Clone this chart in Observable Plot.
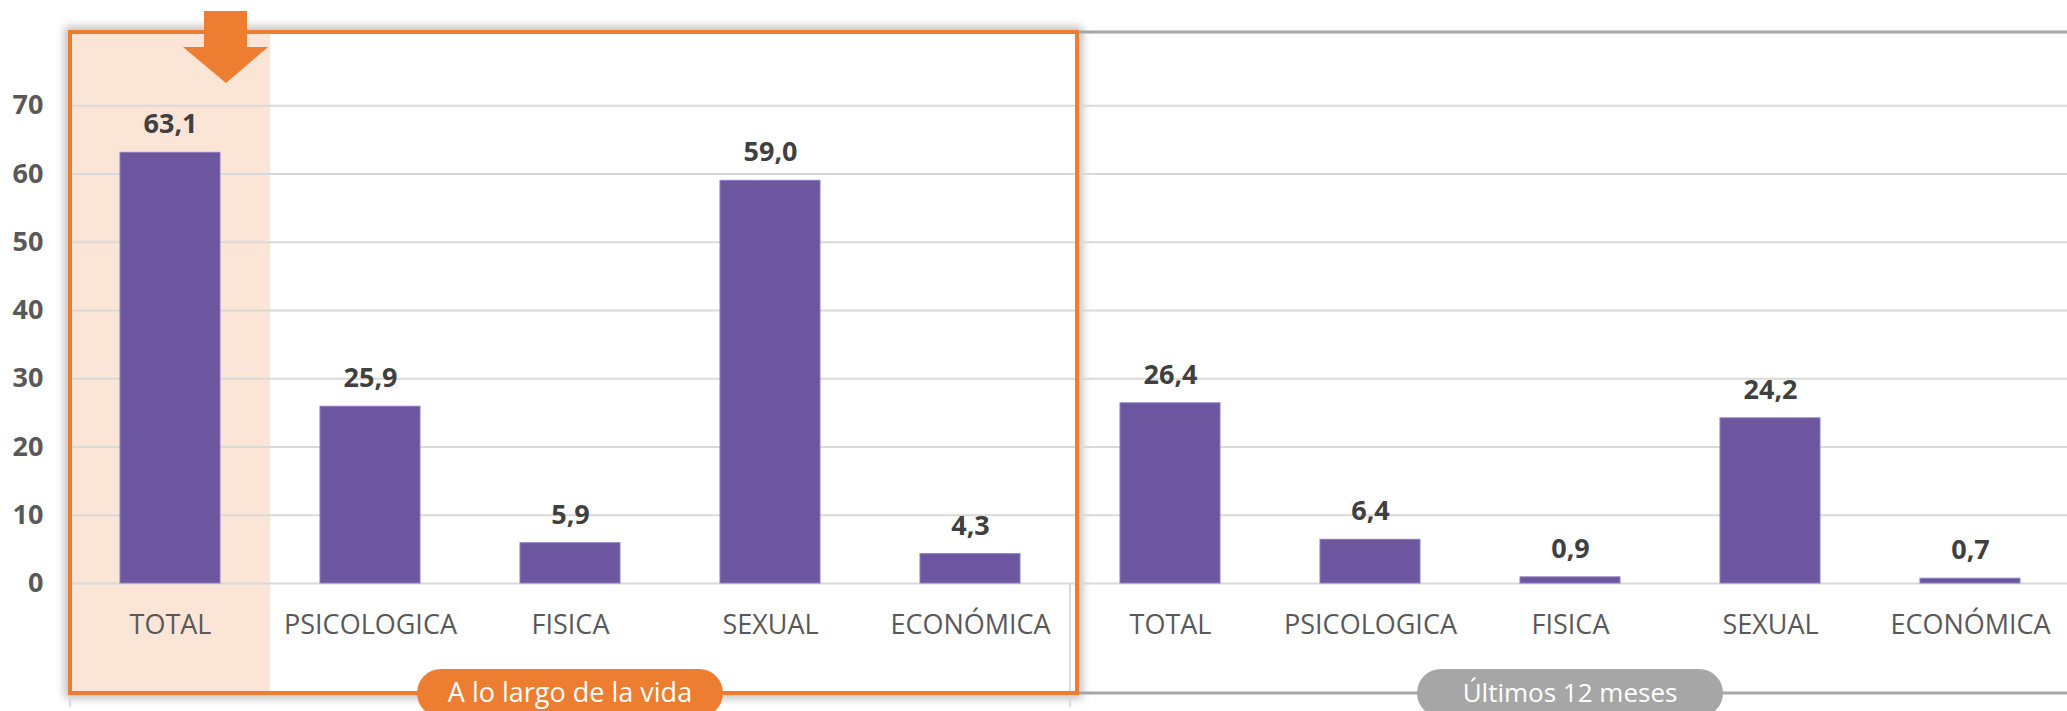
<!DOCTYPE html>
<html>
<head>
<meta charset="utf-8">
<script src="https://cdn.jsdelivr.net/npm/d3@7"></script>
<script src="https://cdn.jsdelivr.net/npm/@observablehq/plot@0.6"></script>
<style>
  html, body { margin: 0; padding: 0; background: #fff; }
  #chart { width: 2067px; height: 711px; overflow: hidden; }
</style>
</head>
<body>
<div id="chart"></div>
<script>
// ---- data ----
const categories = ["TOTAL", "PSICOLOGICA", "FISICA", "SEXUAL", "ECONÓMICA"];
const periods = ["A lo largo de la vida", "Últimos 12 meses"];
const valuesVida = [63.1, 25.9, 5.9, 59.0, 4.3];
const values12 = [26.4, 6.4, 0.9, 24.2, 0.7];
const yTicks = [0, 10, 20, 30, 40, 50, 60, 70];

const data = [];
periods.forEach((p, pi) => {
  const vals = pi === 0 ? valuesVida : values12;
  categories.forEach((c, ci) => data.push({key: pi * categories.length + ci, period: p, pi, category: c, value: vals[ci]}));
});
const keys = data.map(d => d.key);

const fmt = v => d3.format(".1f")(v).replace(".", ",");
const ORANGE = "#ED7D31", GRAY = "#A6A6A6", PURPLE = "#6C56A0", PEACH = "#FBE5D6", GRID = "#D9D9D9";
const FONT = "'Open Sans', 'Noto Sans', sans-serif";

function edges(x) {
  const step = x(keys[1]) - x(keys[0]);
  const bw = typeof x.bandwidth === "function" ? x.bandwidth() : step / 2;
  const pad = (step - bw) / 2;
  return {left: k => x(k) - pad, right: k => x(k) + bw + pad, center: k => x(k) + bw / 2};
}
const n = categories.length;

// background: shadow, white interior of highlighted group, peach highlight of TOTAL
function background(index, {x, y}) {
  const e = edges(x);
  const g = d3.create("svg:g");
  const top = y(80) - 5, bottom = y(0) + 110;
  const l = e.left(keys[0]), r = e.right(keys[n - 1]) + 7;
  const f = g.append("defs").append("filter").attr("id", "glow")
    .attr("x", "-5%").attr("y", "-10%").attr("width", "110%").attr("height", "120%");
  f.append("feGaussianBlur").attr("stdDeviation", 5);
  g.append("rect").attr("x", l).attr("y", top).attr("width", r - l).attr("height", bottom - top)
    .attr("fill", "none").attr("stroke", "#000").attr("stroke-opacity", 0.28).attr("stroke-width", 10)
    .attr("filter", "url(#glow)");
  g.append("rect").attr("x", l).attr("y", top).attr("width", r - l).attr("height", bottom - top).attr("fill", "#fff");
  g.append("rect").attr("x", l).attr("y", top).attr("width", e.right(keys[0]) - l).attr("height", bottom - top).attr("fill", PEACH);
  return g.node();
}

// frames, separators, arrow and group pills
function frames(index, {x, y}, values, dims) {
  const e = edges(x);
  const g = d3.create("svg:g");
  const top = y(80) - 5, bottom = y(0) + 110;
  const l = e.left(keys[0]), r = e.right(keys[n - 1]) + 7;
  // category group separators
  [e.left(keys[0]), e.right(keys[n - 1]), e.right(keys[2 * n - 1])].forEach(sx => {
    g.append("line").attr("x1", sx).attr("x2", sx).attr("y1", y(0)).attr("y2", y(0) + 124)
      .attr("stroke", GRID).attr("stroke-width", 2);
  });
  // gray frame (second group)
  g.append("rect").attr("x", r).attr("y", top).attr("width", dims.width - r + 20).attr("height", bottom - top)
    .attr("fill", "none").attr("stroke", GRAY).attr("stroke-width", 3);
  // orange frame (first group)
  g.append("rect").attr("x", l).attr("y", top).attr("width", r - l).attr("height", bottom - top)
    .attr("fill", "none").attr("stroke", ORANGE).attr("stroke-width", 4);
  // arrow
  const ax = l + 156;
  const arrow = [[ax - 22, top - 21], [ax + 21, top - 21], [ax + 21, top + 15], [ax + 42, top + 15],
                 [ax, top + 51], [ax - 43, top + 15], [ax - 22, top + 15]];
  g.append("polygon").attr("points", arrow.map(p => p.join(",")).join(" ")).attr("fill", ORANGE);
  // pills
  periods.forEach((p, pi) => {
    const cx = (e.left(keys[pi * n]) + e.right(keys[pi * n + n - 1])) / 2;
    const w = 306, h = 48;
    g.append("rect").attr("x", cx - w / 2).attr("y", bottom - h / 2).attr("width", w).attr("height", h)
      .attr("rx", 24).attr("ry", 24).attr("fill", pi === 0 ? ORANGE : GRAY);
    g.append("text").attr("x", cx).attr("y", bottom).attr("dy", "0.35em").attr("text-anchor", "middle")
      .attr("fill", "#fff").attr("font-size", pi === 0 ? 27 : 26).attr("font-family", FONT).text(p);
  });
  return g.node();
}

const chart = Plot.plot({
  width: 2067,
  height: 711,
  marginLeft: 70,
  marginRight: 0,
  marginTop: 37,
  marginBottom: 128,
  style: {fontFamily: FONT, fontSize: "25px", background: "#fff", overflow: "visible"},
  x: {type: "band", domain: keys, range: [70, 2070], paddingInner: 0.5, paddingOuter: 0.25},
  y: {domain: [0, 80]},
  marks: [
    background,
    Plot.ruleY(yTicks, {stroke: GRID, strokeWidth: 2}),
    frames,
    Plot.barY(data, {x: "key", y: "value", fill: PURPLE, stroke: "#8C7CBC", strokeWidth: 1}),
    Plot.text(data, {x: "key", y: "value", text: d => fmt(d.value), dy: -28, lineAnchor: "middle",
      fontSize: 27, fontWeight: "bold", fill: "#404040"}),
    Plot.axisY({ticks: yTicks, tickSize: 0, tickPadding: 27, fontSize: 27, fontWeight: "bold", fill: "#595959", label: null}),
    Plot.axisX({tickSize: 0, tickPadding: 31, tickFormat: k => categories[k % n], fontSize: 27, fill: "#595959", label: null})
  ]
});
document.getElementById("chart").appendChild(chart);
</script>
</body>
</html>
